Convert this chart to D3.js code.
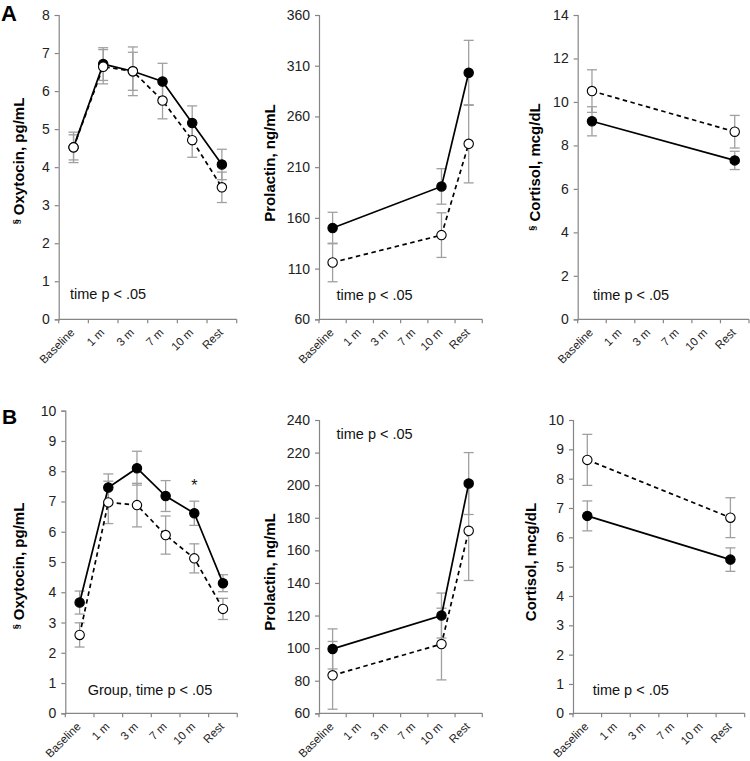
<!DOCTYPE html>
<html>
<head>
<meta charset="utf-8">
<script src="https://cdn.jsdelivr.net/npm/d3@7/dist/d3.min.js"></script>
<style>
html,body{margin:0;padding:0;background:#fff;}
svg{display:block;font-family:Arial,"Liberation Sans",sans-serif;}
</style>
</head>
<body>
<svg id="chart" width="750" height="761"></svg>
<script>
// ---- data ----
const categories = ["Baseline", "1 m", "3 m", "7 m", "10 m", "Rest"];
const oxyCats = ["Baseline", "1 m", "3 m", "7 m", "10 m", "Rest"];
const prlCats = ["Baseline", "10 m", "Rest"];
const corCats = ["Baseline", "Rest"];

// Panel A
const aOxyFilled   = [4.52, 6.71, 6.52, 6.25, 5.16, 4.07];
const aOxyFilledSE = [0.40, 0.43, 0.50, 0.48, 0.45, 0.40];
const aOxyOpen     = [4.52, 6.64, 6.52, 5.75, 4.71, 3.47];
const aOxyOpenSE   = [0.33, 0.45, 0.64, 0.48, 0.45, 0.40];

const aPrlFilled   = [150, 191, 303];
const aPrlFilledSE = [15.5, 17.5, 32];
const aPrlOpen     = [116, 143, 233];
const aPrlOpenSE   = [19, 22, 38.5];

const aCorFilled   = [9.11, 7.31];
const aCorFilledSE = [0.67, 0.42];
const aCorOpen     = [10.5, 8.63];
const aCorOpenSE   = [0.98, 0.75];

// Panel B
const bOxyFilled   = [3.66, 7.46, 8.10, 7.18, 6.61, 4.30];
const bOxyFilledSE = [0.38, 0.45, 0.56, 0.51, 0.40, 0.28];
const bOxyOpen     = [2.59, 6.97, 6.88, 5.89, 5.12, 3.45];
const bOxyOpenSE   = [0.40, 0.70, 0.72, 0.63, 0.48, 0.35];

const bPrlFilled   = [99.5, 120, 201];
const bPrlFilledSE = [12.3, 13.8, 19];
const bPrlOpen     = [83.3, 102.5, 172];
const bPrlOpenSE   = [20.8, 22, 30.5];

const bCorFilled   = [6.73, 5.24];
const bCorFilledSE = [0.51, 0.40];
const bCorOpen     = [8.64, 6.67];
const bCorOpenSE   = [0.87, 0.68];

// y tick values
const ticksA1 = [0,1,2,3,4,5,6,7,8];
const ticksA2 = [60,110,160,210,260,310,360];
const ticksA3 = [0,2,4,6,8,10,12,14];
const ticksB1 = [0,1,2,3,4,5,6,7,8,9,10];
const ticksB2 = [60,80,100,120,140,160,180,200,220,240];
const ticksB3 = [0,1,2,3,4,5,6,7,8,9,10];

const statA = "time p < .05";
const statB1 = "Group, time p < .05";

// ---- layout (panel geometry) ----
const panels = [
  {x0:58.7, x1:236.7, yT:15,    yB:319.3, dom:[0,8],    ticks:ticksA1, cats:oxyCats,
   filled:aOxyFilled, filledSE:aOxyFilledSE, open:aOxyOpen, openSE:aOxyOpenSE,
   label:"Oxytocin, pg/mL", sect:true, labX:23.5, labY:161, note:statA, noteX:70, noteY:299},
  {x0:319, x1:482.3, yT:15, yB:319.3, dom:[60,360], ticks:ticksA2, cats:prlCats,
   filled:aPrlFilled, filledSE:aPrlFilledSE, open:aPrlOpen, openSE:aPrlOpenSE,
   label:"Prolactin, ng/mL", sect:false, labX:275, labY:163, note:statA, noteX:336.5, noteY:300},
  {x0:577.7, x1:749, yT:15, yB:319.3, dom:[0,14], ticks:ticksA3, cats:corCats,
   filled:aCorFilled, filledSE:aCorFilledSE, open:aCorOpen, openSE:aCorOpenSE,
   label:"Cortisol, mcg/dL", sect:true, labX:539.5, labY:167, note:statA, noteX:593, noteY:300},
  {x0:65.3, x1:237.3, yT:410.7, yB:713.3, dom:[0,10], ticks:ticksB1, cats:oxyCats,
   filled:bOxyFilled, filledSE:bOxyFilledSE, open:bOxyOpen, openSE:bOxyOpenSE,
   label:"Oxytocin, pg/mL", sect:true, labX:23.5, labY:566, note:statB1, noteX:87.7, noteY:695, star:"10 m"},
  {x0:319, x1:482.3, yT:420, yB:713.3, dom:[60,240], ticks:ticksB2, cats:prlCats,
   filled:bPrlFilled, filledSE:bPrlFilledSE, open:bPrlOpen, openSE:bPrlOpenSE,
   label:"Prolactin, ng/mL", sect:false, labX:275, labY:572, note:statA, noteX:336.5, noteY:439},
  {x0:573, x1:744.7, yT:420, yB:713.3, dom:[0,10], ticks:ticksB3, cats:corCats,
   filled:bCorFilled, filledSE:bCorFilledSE, open:bCorOpen, openSE:bCorOpenSE,
   label:"Cortisol, mcg/dL", sect:false, labX:535.5, labY:562, note:statA, noteX:592.7, noteY:695}
];

const svg = d3.select("#chart");
const axisCol = "#868686";
const errCol = "#a0a0a0";

panels.forEach(p => {
  const g = svg.append("g");
  const x = d3.scaleBand().domain(categories).range([p.x0, p.x1]).padding(0);
  const cx = c => x(c) + x.bandwidth() / 2;
  const y = d3.scaleLinear().domain(p.dom).range([p.yB, p.yT]);

  // y axis
  const ya = g.append("g").attr("transform", `translate(${p.x0},0)`)
    .call(d3.axisLeft(y).tickValues(p.ticks).tickSize(4).tickPadding(5).tickFormat(d3.format("d")));
  ya.select(".domain").attr("stroke", axisCol).attr("stroke-width", 1.2);
  ya.selectAll(".tick line").attr("stroke", axisCol).attr("stroke-width", 1.2);
  ya.selectAll(".tick text").attr("font-size", 14).attr("fill", "#222")
    .attr("font-family", 'Arial,"Liberation Sans",sans-serif');

  // x axis: domain line + ticks at band boundaries
  const bounds = categories.map(c => x(c)).concat([p.x1]);
  const xa = g.append("g");
  xa.append("line").attr("x1", p.x0).attr("x2", p.x1).attr("y1", p.yB).attr("y2", p.yB)
    .attr("stroke", axisCol).attr("stroke-width", 1.2);
  xa.selectAll("line.xt").data(bounds).enter().append("line").attr("class", "xt")
    .attr("x1", d => d).attr("x2", d => d).attr("y1", p.yB).attr("y2", p.yB + 4)
    .attr("stroke", axisCol).attr("stroke-width", 1.2);
  xa.selectAll("text").data(categories).enter().append("text")
    .attr("transform", d => `translate(${cx(d) - 1},${p.yB + 11}) rotate(-45)`)
    .attr("text-anchor", "end").attr("dy", "0.35em")
    .attr("font-size", 11.5).attr("fill", "#222").text(d => d);

  // y label
  const lab = g.append("text")
    .attr("transform", `translate(${p.labX},${p.labY}) rotate(-90)`)
    .attr("text-anchor", "middle").attr("font-size", 15).attr("font-weight", "bold").attr("fill", "#000");
  if (p.sect) {
    lab.append("tspan").attr("font-size", 9).attr("dy", "-0.45em").text("§");
    lab.append("tspan").attr("dy", "0.3em").text(" " + p.label);
  } else {
    lab.text(p.label);
  }

  // note
  g.append("text").attr("x", p.noteX).attr("y", p.noteY).attr("font-size", 14.5)
    .attr("fill", "#111").text(p.note);

  const series = [
    {vals: p.filled, se: p.filledSE, dash: null, fill: "#000"},
    {vals: p.open, se: p.openSE, dash: "4.5,3.5", fill: "#fff"}
  ];

  // error bars
  series.forEach(s => {
    const data = p.cats.map((c, i) => ({c, v: s.vals[i], e: s.se[i]}));
    const eb = g.append("g").attr("stroke", errCol).attr("stroke-width", 1.3);
    eb.selectAll("line.v").data(data).enter().append("line")
      .attr("x1", d => cx(d.c)).attr("x2", d => cx(d.c))
      .attr("y1", d => y(d.v + d.e)).attr("y2", d => y(d.v - d.e));
    eb.selectAll("line.t").data(data).enter().append("line")
      .attr("x1", d => cx(d.c) - 5).attr("x2", d => cx(d.c) + 5)
      .attr("y1", d => y(d.v + d.e)).attr("y2", d => y(d.v + d.e));
    eb.selectAll("line.b").data(data).enter().append("line")
      .attr("x1", d => cx(d.c) - 5).attr("x2", d => cx(d.c) + 5)
      .attr("y1", d => y(d.v - d.e)).attr("y2", d => y(d.v - d.e));
  });

  // lines
  series.forEach(s => {
    const data = p.cats.map((c, i) => ({c, v: s.vals[i]}));
    const line = d3.line().x(d => cx(d.c)).y(d => y(d.v));
    g.append("path").datum(data).attr("d", line).attr("fill", "none")
      .attr("stroke", "#000").attr("stroke-width", 1.7)
      .attr("stroke-dasharray", s.dash);
  });

  // markers
  series.forEach(s => {
    const data = p.cats.map((c, i) => ({c, v: s.vals[i]}));
    g.selectAll(null).data(data).enter().append("circle")
      .attr("cx", d => cx(d.c)).attr("cy", d => y(d.v)).attr("r", 4.7)
      .attr("fill", s.fill).attr("stroke", "#000").attr("stroke-width", 1.1);
  });

  if (p.star) {
    const i = p.cats.indexOf(p.star);
    g.append("text").attr("x", cx(p.star)).attr("y", y(p.filled[i] + p.filledSE[i]) - 10)
      .attr("text-anchor", "middle").attr("font-size", 16).attr("fill", "#111").text("*");
  }
});

// panel letters
svg.append("text").attr("x", 1).attr("y", 21).attr("font-size", 22).attr("font-weight", "bold").text("A");
svg.append("text").attr("x", 2).attr("y", 423.5).attr("font-size", 21).attr("font-weight", "bold").text("B");
</script>
</body>
</html>
